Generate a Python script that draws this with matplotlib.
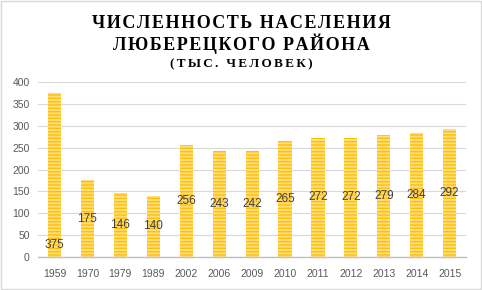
import matplotlib
matplotlib.use('Agg')
import matplotlib.pyplot as plt

# Dados
years = ['1959', '1970', '1979', '1989', '2002', '2006', '2009',
         '2010', '2011', '2012', '2013', '2014', '2015']
population = [375, 175, 146, 140, 256, 243, 242, 265, 272, 272, 279, 284, 292]

title_lines = ['ЧИСЛЕННОСТЬ НАСЕЛЕНИЯ', 'ЛЮБЕРЕЦКОГО РАЙОНА']
subtitle = '(ТЫС. ЧЕЛОВЕК)'


def spaced(s, sep='\u200a'):
    # espaçamento entre letras
    return sep.join(s)


plt.rcParams['hatch.linewidth'] = 1.0
fig = plt.figure(figsize=(4.82, 2.90), dpi=100)
ax = fig.add_axes([0.079, 0.114, 0.888, 0.603])

x = list(range(len(years)))
ax.bar(x, population, width=0.4, color='#FFDD80', edgecolor='#FFC000',
       hatch='-----', linewidth=0, zorder=2)

# Rótulos de dados
for i, v in enumerate(population):
    y = v / 2 if i > 0 else 28
    ax.text(i, y, str(v), ha='center', va='center', fontsize=8.5,
            color='#404040', family='Liberation Sans', zorder=3)

ax.set_xlim(-0.5, len(years) - 0.5)
ax.set_ylim(0, 400)
ax.set_yticks(range(0, 401, 50))
ax.set_xticks(x)
ax.set_xticklabels(years)
ax.grid(axis='y', color='#D9D9D9', linewidth=0.8, zorder=0)
for s in ['top', 'right', 'left']:
    ax.spines[s].set_visible(False)
ax.spines['bottom'].set_color('#BFBFBF')
ax.spines['bottom'].set_linewidth(1.0)
ax.tick_params(axis='y', length=0, labelsize=7.5, colors='#595959', pad=6)
ax.tick_params(axis='x', length=0, labelsize=7.5, colors='#595959', pad=9)
for lbl in ax.get_xticklabels() + ax.get_yticklabels():
    lbl.set_family('Liberation Sans')

# Título
serif = ['Liberation Serif', 'DejaVu Serif']
fig.text(0.5, 0.903, spaced(title_lines[0]), ha='center', va='baseline',
         fontsize=13, fontweight='bold', family=serif)
fig.text(0.5, 0.828, spaced(title_lines[1]), ha='center', va='baseline',
         fontsize=13, fontweight='bold', family=serif)
fig.text(0.5, 0.769, spaced(subtitle, '\u200a\u200a'), ha='center', va='baseline',
         fontsize=9.5, fontweight='bold', family=serif)

# Borda
fig.patches.append(plt.Rectangle((0.002, 0.003), 0.996, 0.994, transform=fig.transFigure,
                                 fill=False, edgecolor='#D9D9D9', linewidth=1))

fig.savefig('out.png', dpi=100)
